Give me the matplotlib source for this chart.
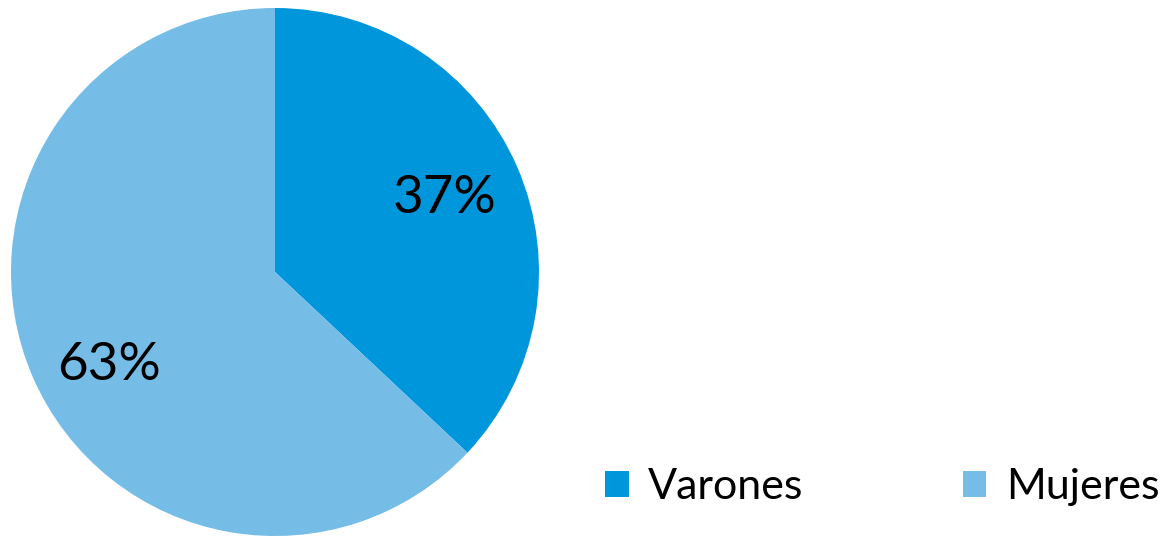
import numpy as np
import matplotlib.pyplot as plt

plt.rcParams['font.family'] = ['Lato', 'DejaVu Sans']

categories = ["Varones", "Mujeres"]
values = [37, 63]
colors = ["#0096DB", "#75BDE6"]

W, H = 1163, 537
fig = plt.figure(figsize=(W / 100, H / 100), dpi=100)

cx, cy, r = 275, 272, 264
ax = fig.add_axes([(cx - r) / W, (H - cy - r) / H, 2 * r / W, 2 * r / H])

wedges, _, autotexts = ax.pie(
    values, colors=colors, startangle=90, counterclock=False,
    autopct=lambda p: f"{p:.0f}%", pctdistance=0.7,
    textprops=dict(fontsize=38, color="black"),
    wedgeprops=dict(linewidth=0),
)
ax.set_xlim(-1, 1)
ax.set_ylim(-1, 1)
ax.set_aspect("equal")

# la etiqueta grande queda algo más abajo en el original
w = wedges[1]
ang = np.deg2rad((w.theta1 + w.theta2) / 2 + 6)
autotexts[1].set_position((0.72 * np.cos(ang), 0.72 * np.sin(ang)))

leg = fig.legend(
    wedges, categories, ncol=2, loc="lower right",
    bbox_to_anchor=(1.03, -0.015), frameon=False, fontsize=31,
    handlelength=0.55, handleheight=0.55, handletextpad=0.45,
    columnspacing=3.7,
)

fig.savefig("out.png", dpi=100)
